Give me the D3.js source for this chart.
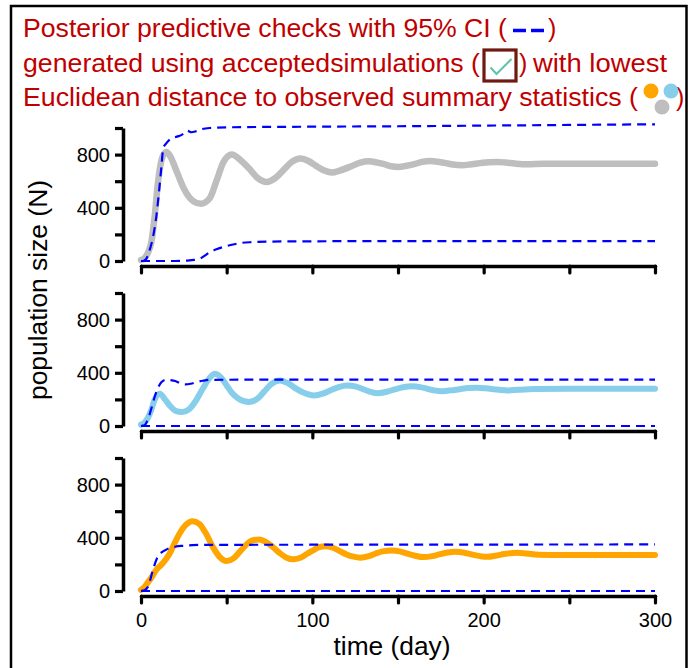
<!DOCTYPE html>
<html>
<head>
<meta charset="utf-8">
<script src="https://cdn.jsdelivr.net/npm/d3@7"></script>
<style>
  html, body { margin: 0; padding: 0; background: #fff; }
  svg { display: block; font-family: "Liberation Sans", Arial, Helvetica, sans-serif; }
</style>
</head>
<body>
<svg id="chart" width="694" height="668"></svg>
<script>
// ---- simulated trajectory with lowest distance, panel 1 (grey) ----
const grayDays = [0, 2, 4, 6, 8, 10, 12, 14.6, 17, 20, 25, 30, 35, 40, 44, 48, 53, 58, 63, 68, 73.4, 78, 83, 88, 93, 98, 102, 107, 111.5, 116, 122, 128, 133, 138, 142, 146, 150.5, 155, 160, 164, 169, 174, 178, 182, 187.5, 193, 198, 203, 208, 213, 218, 225, 235, 260, 300];
const grayN    = [8, 20, 60, 140, 340, 600, 760, 820, 790, 700, 545, 455, 431, 470, 600, 740, 800, 760, 697, 625, 594, 620, 682, 745, 770, 750, 717, 680, 665, 680, 708, 740, 750, 740, 728, 712, 707, 716, 730, 745, 752, 745, 736, 725, 720, 728, 736, 743, 745, 740, 733, 727, 732, 732, 732];
// 95% CI bounds, panel 1
const grayUpDays = [0, 1, 3, 5, 7, 9, 10.5, 12, 13, 14.5, 17, 21, 24, 26.7, 29.6, 32, 35, 40, 50, 100, 150, 200, 250, 300];
const grayUp     = [0, 0, 15, 80, 180, 340, 520, 720, 850, 880, 915, 935, 950, 980, 968, 975, 990, 1000, 1005, 1010, 1013, 1018, 1023, 1028];
const grayLoDays = [0, 20, 27, 31, 34.5, 37, 40, 44, 48, 53, 58, 65, 75, 100, 150, 300];
const grayLo     = [0, 0, 3, 8, 18, 38, 65, 88, 105, 122, 135, 142, 146, 148, 150, 150];

// ---- panel 2 (sky blue) ----
const blueDays = [0, 2, 4, 6, 8, 11, 14, 17, 20, 24, 28, 32, 36, 40, 43, 47, 50, 53, 57, 63, 68, 72, 76, 81, 86, 90, 95, 101, 106, 110, 115, 120, 125, 129, 133, 138, 143, 148, 153, 158, 163, 167, 171, 176, 181, 186, 191, 196, 201, 206, 210, 214, 220, 230, 250, 300];
const blueN    = [10, 25, 60, 120, 200, 243, 200, 150, 115, 105, 125, 190, 280, 360, 393, 360, 305, 250, 205, 180, 205, 260, 315, 343, 320, 285, 250, 230, 243, 265, 290, 305, 298, 280, 260, 247, 256, 275, 291, 298, 292, 280, 268, 262, 268, 277, 285, 287, 283, 276, 270, 267, 272, 278, 280, 280];
const blueUpDays = [0, 2, 4, 6, 8, 10, 12, 14.5, 17, 20, 23, 26, 29, 32.5, 36, 40, 60, 300];
const blueUp     = [0, 5, 50, 130, 220, 290, 330, 348, 345, 338, 322, 313, 318, 330, 340, 347, 348, 348];
const blueLoDays = [0, 300];
const blueLo     = [0, 0];

// ---- panel 3 (orange) ----
const orangeDays = [0, 2, 4, 6, 9, 13, 17, 20, 22, 26, 30, 34, 38, 42, 46, 50, 54, 58, 62, 65, 69, 73, 77, 81, 85, 89, 93, 97, 101, 104, 107.5, 112, 116, 120, 124, 128, 133, 137, 141, 146.5, 151, 155, 160, 165, 170, 174, 179, 183.5, 188, 193, 198, 202, 207, 212, 219.5, 225, 232, 245, 300];
const orangeN    = [8, 30, 65, 100, 160, 213, 288, 370, 420, 495, 525, 505, 430, 330, 255, 225, 245, 300, 355, 380, 388, 368, 330, 285, 250, 238, 250, 280, 310, 330, 337, 325, 300, 275, 258, 250, 262, 282, 298, 305, 298, 283, 265, 255, 262, 275, 290, 295, 290, 275, 262, 257, 265, 278, 288, 282, 272, 270, 270];
const orangeUpDays = [0, 2, 4.3, 7, 10, 12, 15, 20, 25, 30, 40, 100, 300];
const orangeUp     = [0, 5, 38, 160, 263, 290, 313, 333, 340, 345, 347, 348, 350];
const orangeLoDays = [0, 300];
const orangeLo     = [0, 0];

// axis ticks
const yTicks = [0, 200, 400, 600, 800, 1000];
const yTickLabels = [0, 400, 800];
const xTicks = [0, 50, 100, 150, 200, 250, 300];
const xTickLabels = [0, 100, 200, 300];

// text
const titleLine1 = "Posterior predictive checks with 95% CI (";
const titleLine2a = "generated using acceptedsimulations (";
const titleLine2b = "with lowest";
const titleLine3 = "Euclidean distance to observed summary statistics (";
const yTitle = "population size (N)";
const xTitle = "time (day)";

const zip = (xs, ys) => xs.map((x, i) => [x, ys[i]]);

const panels = [
  { color: "#bebebe", width: 6.5, line: zip(grayDays, grayN),
    upper: zip(grayUpDays, grayUp), lower: zip(grayLoDays, grayLo) },
  { color: "#87ceeb", width: 6, line: zip(blueDays, blueN),
    upper: zip(blueUpDays, blueUp), lower: zip(blueLoDays, blueLo) },
  { color: "#ffa500", width: 6, line: zip(orangeDays, orangeN),
    upper: zip(orangeUpDays, orangeUp), lower: zip(orangeLoDays, orangeLo) }
];

const svg = d3.select("#chart");
const titleColor = "#c00000";
const font = '"Liberation Sans", Arial, Helvetica, sans-serif';

// outer frame
svg.append("rect")
  .attr("x", 11).attr("y", 6).attr("width", 675.5).attr("height", 700)
  .attr("fill", "none").attr("stroke", "#000").attr("stroke-width", 2.5);

// ---- title block ----
const title = svg.append("g").attr("fill", titleColor).attr("font-size", 25);
title.append("text").attr("x", 23).attr("y", 36.5)
  .attr("textLength", 484).attr("lengthAdjust", "spacingAndGlyphs").text(titleLine1);
// dashed-line legend key
svg.append("g").attr("stroke", "#0000ff").attr("stroke-width", 3.5)
  .selectAll("line").data([[513, 526], [531, 544]]).join("line")
  .attr("x1", d => d[0]).attr("x2", d => d[1]).attr("y1", 30.5).attr("y2", 30.5);
title.append("text").attr("x", 548).attr("y", 36.5).text(")");

title.append("text").attr("x", 23).attr("y", 71.5)
  .attr("textLength", 457).attr("lengthAdjust", "spacingAndGlyphs").text(titleLine2a);
// checked box key
svg.append("rect").attr("x", 484).attr("y", 50).attr("width", 32).attr("height", 31)
  .attr("fill", "#fff").attr("stroke", "#6e1a12").attr("stroke-width", 3.2);
svg.append("path").attr("d", "M490.5,67.5 L496.5,74 L511.5,59")
  .attr("fill", "none").attr("stroke", "#5ec4a8").attr("stroke-width", 2);
title.append("text").attr("x", 519).attr("y", 71.5).text(")");
title.append("text").attr("x", 533).attr("y", 71.5)
  .attr("textLength", 134).attr("lengthAdjust", "spacingAndGlyphs").text(titleLine2b);

title.append("text").attr("x", 23).attr("y", 106)
  .attr("textLength", 615).attr("lengthAdjust", "spacingAndGlyphs").text(titleLine3);
// coloured dots key
svg.append("g").selectAll("circle")
  .data([[651, 91, "#ffa500"], [671, 91, "#87ceeb"], [662, 107, "#bebebe"]])
  .join("circle").attr("cx", d => d[0]).attr("cy", d => d[1]).attr("r", 7.5).attr("fill", d => d[2]);
title.append("text").attr("x", 676).attr("y", 106).text(")");

// ---- panels ----
const x = d3.scaleLinear().domain([0, 300]).range([141, 655]);
const panelTop0 = 128, panelStep = 165, panelH = 133;

panels.forEach((p, i) => {
  const top = panelTop0 + i * panelStep;
  const y = d3.scaleLinear().domain([0, 1000]).range([top + panelH, top]);
  const g = svg.append("g");

  const line = d3.line().x(d => x(d[0])).y(d => y(d[1])).curve(d3.curveMonotoneX);

  // simulated trajectory
  g.append("path").datum(p.line).attr("d", line)
    .attr("fill", "none").attr("stroke", p.color).attr("stroke-width", p.width)
    .attr("stroke-linecap", "round").attr("stroke-linejoin", "round");

  // 95% CI bounds
  [p.upper, p.lower].forEach(b => {
    g.append("path").datum(b).attr("d", line)
      .attr("fill", "none").attr("stroke", "#0000ff").attr("stroke-width", 2.2)
      .attr("stroke-dasharray", "9,6");
  });

  // y axis
  const yAxis = d3.axisLeft(y).tickValues(yTicks)
    .tickFormat(d => yTickLabels.includes(d) ? d3.format("d")(d) : "")
    .tickSize(8).tickSizeOuter(0).tickPadding(5);
  const ya = g.append("g").attr("transform", "translate(123,0)").call(yAxis);
  ya.select(".domain").attr("stroke-width", 3.5);
  ya.selectAll(".tick line").attr("stroke-width", 3.2);
  ya.selectAll(".tick text").attr("font-size", 20).attr("font-family", font).attr("fill", "#000");

  // x axis
  const xAxis = d3.axisBottom(x).tickValues(xTicks)
    .tickFormat(d => (i === panels.length - 1 && xTickLabels.includes(d)) ? d3.format("d")(d) : "")
    .tickSize(7).tickSizeOuter(0).tickPadding(10);
  const xa = g.append("g").attr("transform", `translate(0,${top + panelH + 5})`).call(xAxis);
  xa.select(".domain").attr("stroke-width", 3.5).attr("stroke-linecap", "round");
  xa.selectAll(".tick line").attr("stroke-width", 3.2).attr("stroke-linecap", "round");
  xa.selectAll(".tick text").attr("font-size", 20).attr("font-family", font).attr("fill", "#000");
});

// axis titles
svg.append("text")
  .attr("transform", "translate(47,290) rotate(-90)")
  .attr("text-anchor", "middle").attr("font-size", 25)
  .attr("textLength", 220).attr("lengthAdjust", "spacingAndGlyphs")
  .text(yTitle);
svg.append("text")
  .attr("x", 392).attr("y", 655)
  .attr("text-anchor", "middle").attr("font-size", 25)
  .attr("textLength", 117).attr("lengthAdjust", "spacingAndGlyphs")
  .text(xTitle);
</script>
</body>
</html>
